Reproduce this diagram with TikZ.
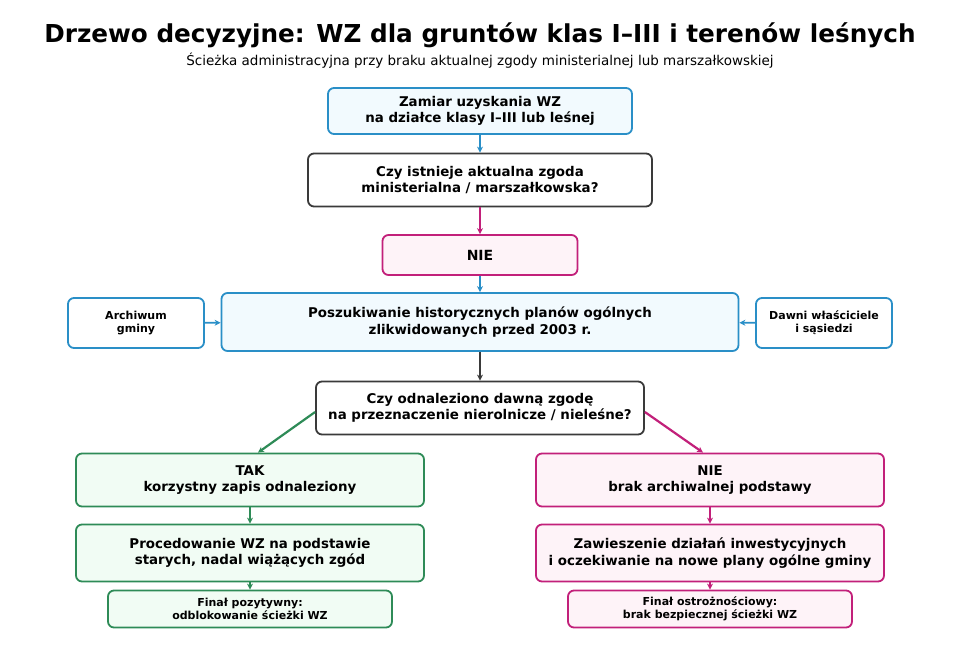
\documentclass[tikz,border=0pt]{standalone}
\usepackage{fontspec}
\setmainfont{DejaVu Sans}
\usetikzlibrary{arrows.meta}
\definecolor{cblue}{HTML}{2A8FC7}
\definecolor{fblue}{HTML}{F2FAFE}
\definecolor{cmag}{HTML}{C2207A}
\definecolor{fmag}{HTML}{FEF3F8}
\definecolor{cgreen}{HTML}{2E8B57}
\definecolor{fgreen}{HTML}{F1FCF4}
\definecolor{cdark}{HTML}{3A3A3A}
\begin{document}
\begin{tikzpicture}[x=1pt,y=-1pt,
 box/.style={draw,rounded corners=6pt,line width=1.8pt,align=center,font=\bfseries\fontsize{13.4}{16.5}\selectfont,inner sep=0pt},
 sm/.style={box,font=\bfseries\fontsize{11}{13}\selectfont},
 bl/.style={draw=cblue,fill=fblue},
 mg/.style={draw=cmag,fill=fmag},
 gr/.style={draw=cgreen,fill=fgreen},
 dk/.style={draw=cdark,fill=white},
 ar/.style={line width=1.8pt,-{Stealth[length=6pt,width=6pt]}}]
\useasboundingbox (0,0) rectangle (960,658);
\node (title) at (480,35) {\bfseries\fontsize{24.7}{28}\selectfont Drzewo decyzyjne: WZ dla gruntów klas I–III i terenów leśnych};
\node (sub) at (480,61) {\fontsize{13.5}{15}\selectfont Ścieżka administracyjna przy braku aktualnej zgody ministerialnej lub marszałkowskiej};
\node[box,bl,minimum width=304pt,minimum height=46pt] (A) at (480,111) {Zamiar uzyskania WZ\\na działce klasy I–III lub leśnej};
\node[box,dk,minimum width=344pt,minimum height=53pt] (B) at (480,180) {Czy istnieje aktualna zgoda\\ministerialna / marszałkowska?};
\node[box,mg,minimum width=195pt,minimum height=40pt,font=\bfseries\fontsize{14}{16}\selectfont] (C) at (480,255) {NIE};
\node[box,bl,minimum width=517pt,minimum height=58pt] (D) at (480,322) {Poszukiwanie historycznych planów ogólnych\\zlikwidowanych przed 2003 r.};
\node[sm,draw=cblue,fill=white,minimum width=136pt,minimum height=50pt] (L) at (136,323) {Archiwum\\gminy};
\node[sm,draw=cblue,fill=white,minimum width=136pt,minimum height=50pt] (R) at (824,323) {Dawni właściciele\\i sąsiedzi};
\node[box,dk,minimum width=328pt,minimum height=53pt] (E) at (480,408) {Czy odnaleziono dawną zgodę\\na przeznaczenie nierolnicze / nieleśne?};
\node[box,gr,minimum width=348pt,minimum height=53pt] (F) at (250,480) {TAK\\korzystny zapis odnaleziony};
\node[box,gr,minimum width=348pt,minimum height=57pt] (G) at (250,553) {Procedowanie WZ na podstawie\\starych, nadal wiążących zgód};
\node[sm,gr,minimum width=284pt,minimum height=37pt] (H) at (250,609) {Finał pozytywny:\\odblokowanie ścieżki WZ};
\node[box,mg,minimum width=348pt,minimum height=53pt] (I) at (710,480) {NIE\\brak archiwalnej podstawy};
\node[box,mg,minimum width=348pt,minimum height=57pt] (J) at (710,553) {Zawieszenie działań inwestycyjnych\\i oczekiwanie na nowe plany ogólne gminy};
\node[sm,mg,minimum width=284pt,minimum height=37pt] (K) at (710,609) {Finał ostrożnościowy:\\brak bezpiecznej ścieżki WZ};
\draw[ar,cblue] (A) -- (B);
\draw[ar,cmag] (B) -- (C);
\draw[ar,cblue] (C) -- (D);
\draw[ar,cdark] (D) -- (E);
\draw[ar,cblue] (L) -- (D);
\draw[ar,cblue] (R) -- (D);
\draw[ar,cgreen,line width=2.2pt] (E.west) ++(0,4) -- ([xshift=8pt]F.north);
\draw[ar,cmag,line width=2.2pt] (E.east) ++(0,4) -- ([xshift=-7pt]I.north);
\draw[ar,cgreen] (F) -- (G);
\draw[ar,cgreen] (G) -- (H);
\draw[ar,cmag] (I) -- (J);
\draw[ar,cmag] (J) -- (K);
\end{tikzpicture}
\end{document}
